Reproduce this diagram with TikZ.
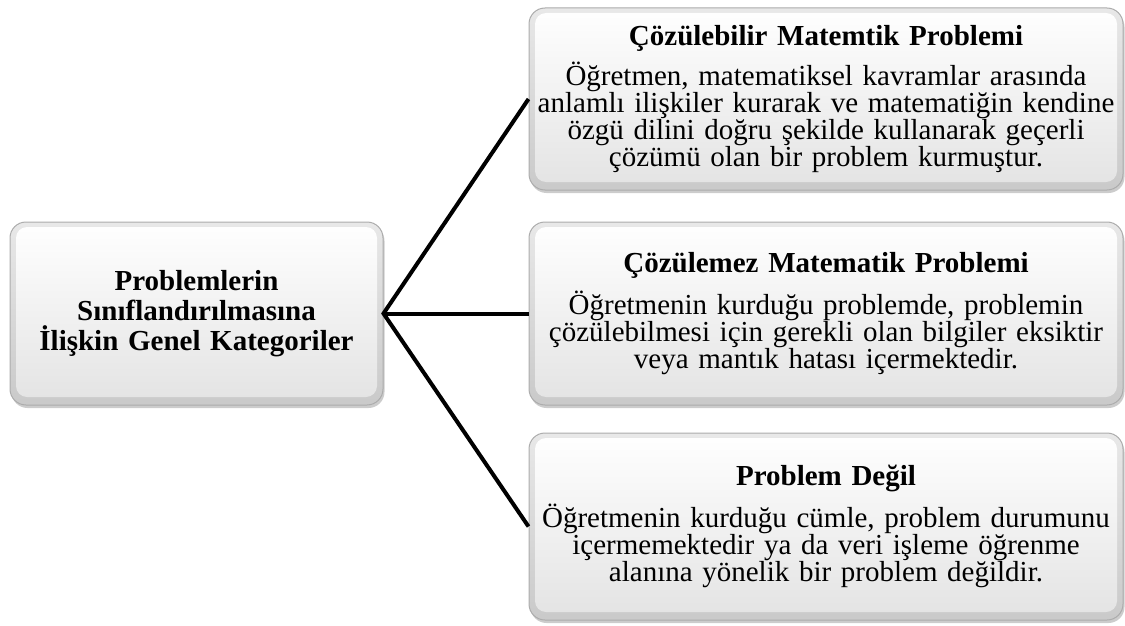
\documentclass[tikz,border=0pt]{standalone}
\usepackage{fontspec}
\setmainfont{Liberation Serif}
\usepackage{tikz}
\usetikzlibrary{shadows}
\setlength{\normallineskiplimit}{-30pt}
\setlength{\lineskiplimit}{-30pt}
\tikzset{box/.style={rectangle, rounded corners=16pt, draw=gray!65, line width=1pt,
    top color=gray!18, bottom color=gray!42, align=center, inner sep=4pt,
    path picture={\shade[top color=white, bottom color=gray!22, rounded corners=11pt]
      ([shift={(6pt,-5pt)}]path picture bounding box.north west) rectangle
      ([shift={(-6pt,8pt)}]path picture bounding box.south east);},
    drop shadow={shadow xshift=1.5pt, shadow yshift=-3pt, opacity=0.4}}}
\tikzset{b/.style={font=\fontsize{29}{27}\selectfont}}
\tikzset{h/.style={font=\fontsize{29}{30}\selectfont}}
\tikzset{link/.style={line width=4pt}}

\begin{document}
\begin{tikzpicture}[x=1pt,y=-1pt]
  \useasboundingbox (0,0) rectangle (1125,626);
  \node[box,h,minimum width=373pt,minimum height=183pt,text width=360pt] (cat) at (196.5,313.5)
    {\textbf{Problemlerin}\\ \textbf{Sınıflandırılmasına}\\ \textbf{İlişkin Genel Kategoriler}};
  \node[box,b,minimum width=592pt,minimum height=182pt,text width=586pt] (k1) at (826,99)
    {\textbf{Çözülebilir Matemtik Problemi}\\[13pt]
     Öğretmen, matematiksel kavramlar arasında\\ anlamlı ilişkiler kurarak ve matematiğin kendine\\
     özgü dilini doğru şekilde kullanarak geçerli\\ çözümü olan bir problem kurmuştur.};
  \node[box,b,minimum width=592pt,minimum height=183pt,text width=586pt] (k2) at (826,313.5)
    {\textbf{Çözülemez Matematik Problemi}\\[15pt]
     Öğretmenin kurduğu problemde, problemin\\ çözülebilmesi için gerekli olan bilgiler eksiktir\\
     veya mantık hatası içermektedir.};
  \node[box,b,minimum width=592pt,minimum height=187pt,text width=586pt] (k3) at (826,526.5)
    {\textbf{Problem Değil}\\[15pt]
     Öğretmenin kurduğu cümle, problem durumunu\\ içermemektedir ya da veri işleme öğrenme\\
     alanına yönelik bir problem değildir.};
  % baglantilar
  \draw[link] (k1.west) -- (cat.east) -- (k3.west);
  \draw[link] (cat.east) -- (k2.west);
\end{tikzpicture}
\end{document}
